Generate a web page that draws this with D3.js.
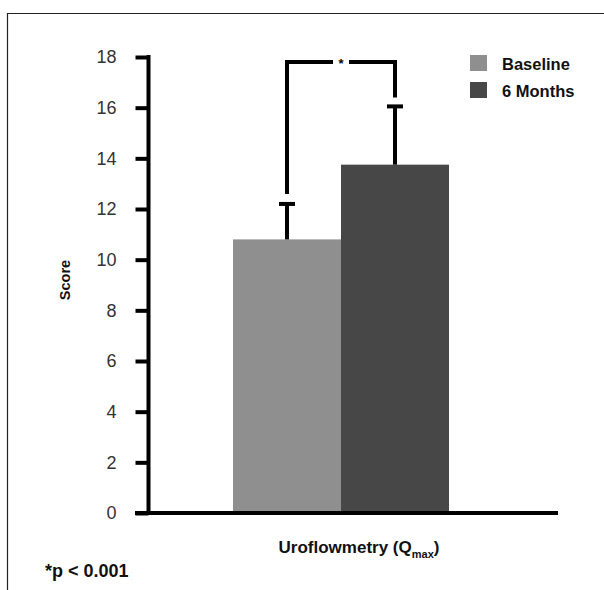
<!DOCTYPE html>
<html>
<head>
<meta charset="utf-8">
<script src="https://cdn.jsdelivr.net/npm/d3@7"></script>
<style>
  body { margin: 0; background: #fff; }
  svg { display: block; }
  text { font-family: "Liberation Sans", Arial, sans-serif; }
</style>
</head>
<body>
<svg id="chart"></svg>
<script>
var series = ["Baseline", "6 Months"];
var means = [10.8, 13.75];
var errors = [1.4, 2.3];
var yTicks = [0, 2, 4, 6, 8, 10, 12, 14, 16, 18];
var colors = ["#8f8f8f", "#474747"];
var bracketLevel = 17.8;

var width = 604, height = 590;
var svg = d3.select("#chart").attr("width", width).attr("height", height);

// frame of the figure panel
svg.append("path")
    .attr("d", "M7.5,600 V13.5 H620")
    .attr("fill", "none").attr("stroke", "#222").attr("stroke-width", 1.2);

var y = d3.scaleLinear().domain([0, 18]).range([513, 57]);
var x = d3.scaleBand().domain(series).range([233, 449]).padding(0);

// bars
svg.selectAll(".bar").data(series).enter().append("rect")
    .attr("class", "bar")
    .attr("x", function (d) { return x(d); })
    .attr("width", x.bandwidth())
    .attr("y", function (d, i) { return y(means[i]); })
    .attr("height", function (d, i) { return y(0) - y(means[i]); })
    .attr("fill", function (d, i) { return colors[i]; });

// error bars (upper only)
var eb = svg.selectAll(".err").data(series).enter().append("g").attr("class", "err");
eb.append("line")
    .attr("x1", function (d) { return x(d) + x.bandwidth() / 2; })
    .attr("x2", function (d) { return x(d) + x.bandwidth() / 2; })
    .attr("y1", function (d, i) { return y(means[i]); })
    .attr("y2", function (d, i) { return y(means[i] + errors[i]); })
    .attr("stroke", "#000").attr("stroke-width", 4);
eb.append("line")
    .attr("x1", function (d) { return x(d) + x.bandwidth() / 2 - 8; })
    .attr("x2", function (d) { return x(d) + x.bandwidth() / 2 + 8; })
    .attr("y1", function (d, i) { return y(means[i] + errors[i]); })
    .attr("y2", function (d, i) { return y(means[i] + errors[i]); })
    .attr("stroke", "#000").attr("stroke-width", 4);

// significance bracket
var cx0 = x(series[0]) + x.bandwidth() / 2,
    cx1 = x(series[1]) + x.bandwidth() / 2,
    mid = (cx0 + cx1) / 2,
    yb = y(bracketLevel);
svg.append("path")
    .attr("d", "M" + cx0 + "," + (y(means[0] + errors[0]) - 10) + " V" + yb + " H" + (mid - 8))
    .attr("fill", "none").attr("stroke", "#000").attr("stroke-width", 4);
svg.append("path")
    .attr("d", "M" + (mid + 8) + "," + yb + " H" + cx1 + " V" + (y(means[1] + errors[1]) - 9))
    .attr("fill", "none").attr("stroke", "#000").attr("stroke-width", 4);
svg.append("text")
    .attr("x", mid).attr("y", yb + 6)
    .attr("text-anchor", "middle")
    .attr("font-size", 13).attr("font-weight", "bold")
    .text("*");

// y axis
var yAxis = d3.axisLeft(y).tickValues(yTicks).tickSize(13).tickPadding(19);
var gy = svg.append("g").attr("transform", "translate(148.5,0)").call(yAxis);
gy.select(".domain").remove();
gy.append("line").attr("x1", 0).attr("x2", 0).attr("y1", y(18) - 2).attr("y2", y(0))
    .attr("stroke", "#000").attr("stroke-width", 4);
gy.selectAll(".tick line").attr("stroke", "#000").attr("stroke-width", 4);
gy.selectAll(".tick text")
    .attr("fill", "#333").attr("font-size", 18)
    .attr("font-family", "'Liberation Sans', Arial, sans-serif");

// x axis line
svg.append("line")
    .attr("x1", 135).attr("x2", 558).attr("y1", y(0)).attr("y2", y(0))
    .attr("stroke", "#000").attr("stroke-width", 4);

// axis titles
svg.append("text")
    .attr("transform", "translate(70,280) rotate(-90)")
    .attr("text-anchor", "middle")
    .attr("font-size", 14.5).attr("font-weight", "bold").attr("fill", "#111")
    .text("Score");

var xt = svg.append("text")
    .attr("x", 359).attr("y", 553)
    .attr("text-anchor", "middle")
    .attr("font-size", 17).attr("font-weight", "bold").attr("fill", "#111");
xt.append("tspan").text("Uroflowmetry (Q");
xt.append("tspan").attr("font-size", 11).attr("dy", 5).text("max");
xt.append("tspan").attr("dy", -5).text(")");

svg.append("text")
    .attr("x", 45).attr("y", 577)
    .attr("font-size", 18).attr("font-weight", "bold").attr("fill", "#111")
    .text("*p < 0.001");

// legend
var lg = svg.selectAll(".legend").data(series).enter().append("g")
    .attr("class", "legend")
    .attr("transform", function (d, i) { return "translate(470," + (55 + i * 27) + ")"; });
lg.append("rect").attr("width", 17).attr("height", 16)
    .attr("fill", function (d, i) { return colors[i]; });
lg.append("text").attr("x", 32).attr("y", 15)
    .attr("font-size", 16.5).attr("font-weight", "bold").attr("fill", "#111")
    .text(function (d) { return d; });
</script>
</body>
</html>
